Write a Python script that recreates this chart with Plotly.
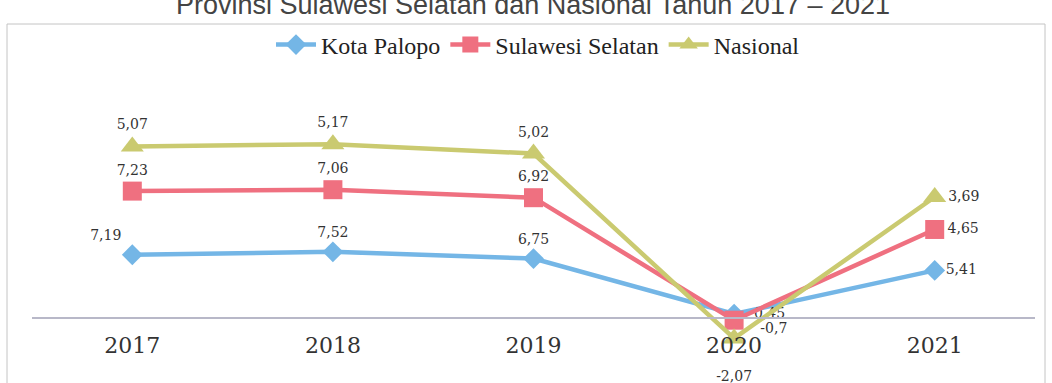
import plotly.graph_objects as go

years = ["2017", "2018", "2019", "2020", "2021"]
palopo = [7.19, 7.52, 6.75, 0.45, 5.41]
sulsel = [7.23, 7.06, 6.92, -0.70, 4.65]
nasional = [5.07, 5.17, 5.02, -2.07, 3.69]
labels_palopo = ["7,19", "7,52", "6,75", "\u00a0\u00a00,45", "5,41"]
labels_sulsel = ["7,23", "7,06", "6,92", "<br>\u00a0\u00a0\u00a0-0,7", "4,65"]
labels_nasional = ["5,07", "5,17", "5,02", "<br>-2,07", "3,69"]

W, H = 1052, 383
ML, MR, MT, MB = 32, 17, 60, 20
y0px = 318
ppu = 8.8
ymax = (y0px - MT) / ppu
ymin = -((H - MB) - y0px) / ppu
pos0 = (0 - ymin) / (ymax - ymin)
PH = H - MT - MB
PW = W - ML - MR

lab_font = dict(family="DejaVu Serif", size=14, color="#333333")

fig = go.Figure()
fig.add_trace(go.Scatter(
    x=years, y=palopo, name="Kota Palopo", stackgroup="g", fill="none",
    mode="lines+markers+text", text=labels_palopo,
    textposition=["top left", "top center", "top center", "middle right", "middle right"],
    line=dict(color="#74B6E6", width=4.5),
    marker=dict(symbol="diamond", size=16, color="#74B6E6"),
    textfont=lab_font, cliponaxis=False,
))
fig.add_trace(go.Scatter(
    x=years, y=sulsel, name="Sulawesi Selatan", stackgroup="g", fill="none",
    mode="lines+markers+text", text=labels_sulsel,
    textposition=["top center", "top center", "top center", "middle right", "middle right"],
    line=dict(color="#EF7080", width=4.5),
    marker=dict(symbol="square", size=19, color="#EF7080"),
    textfont=lab_font, cliponaxis=False,
))
fig.add_trace(go.Scatter(
    x=years, y=nasional, name="Nasional", stackgroup="g", fill="none",
    mode="lines+markers+text", text=labels_nasional,
    textposition=["top center", "top center", "top center", "bottom center", "middle right"],
    line=dict(color="#CACA70", width=4.5),
    marker=dict(symbol="triangle-up", size=20, color="#CACA70"),
    textfont=lab_font, cliponaxis=False,
))

fig.add_annotation(
    text="Provinsi Sulawesi Selatan dan Nasional Tahun 2017 – 2021",
    xref="paper", yref="paper", x=(533 - ML) / PW, y=1 + (MT - 22) / PH,
    xanchor="center", yanchor="bottom", showarrow=False,
    font=dict(family="Liberation Sans", size=27, color="#444444"),
)
fig.add_shape(
    type="rect", xref="paper", yref="paper",
    x0=(7 - ML) / PW, x1=(1045 - ML) / PW,
    y0=-0.3, y1=((H - MB) - 24) / PH,
    line=dict(color="#c4c4c4", width=1), layer="below",
)

fig.update_layout(
    width=W, height=H,
    margin=dict(l=ML, r=MR, t=MT, b=MB),
    paper_bgcolor="white", plot_bgcolor="white",
    showlegend=True,
    legend=dict(orientation="h", x=(538 - ML) / PW, xanchor="center", y=1 + (MT - 45) / PH, yanchor="middle",
                font=dict(family="Liberation Serif", size=24, color="#222222"),
                itemwidth=40, tracegroupgap=0, bgcolor="rgba(0,0,0,0)"),
    xaxis=dict(anchor="free", position=pos0, showline=True, linecolor="#b8b8c8", linewidth=1.5,
               ticks="", showgrid=False, zeroline=False, ticklabelstandoff=8,
               tickfont=dict(family="DejaVu Serif", size=22, color="#333333"),
               range=[-0.5, 4.5]),
    yaxis=dict(range=[ymin, ymax], visible=False, showgrid=False, zeroline=False),
)

fig.write_html("out.html")
